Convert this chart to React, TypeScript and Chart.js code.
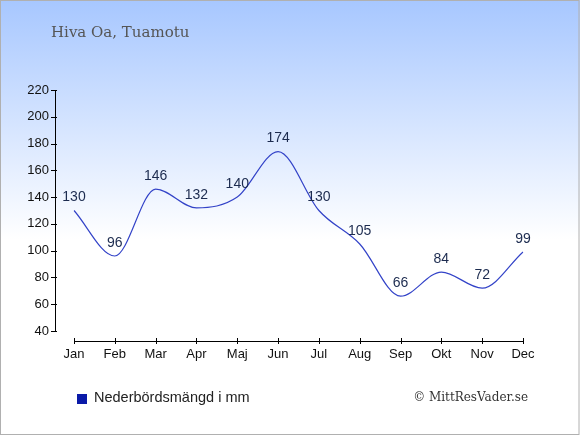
import React, { useEffect, useRef } from "react";
import { Chart, registerables } from "chart.js";

Chart.register(...registerables);

const months = ["Jan", "Feb", "Mar", "Apr", "Maj", "Jun", "Jul", "Aug", "Sep", "Okt", "Nov", "Dec"];
const rainfall = [130, 96, 146, 132, 140, 174, 130, 105, 66, 84, 72, 99];
const yMin = 40;
const yMax = 220;
const yStep = 20;
const titleText = "Hiva Oa, Tuamotu";
const legendText = "Nederbördsmängd i mm";
const creditText = "© MittResVader.se";

const decor = {
  id: "decor",
  beforeDraw(chart: any) {
    const { ctx, width, height } = chart;
    ctx.save();
    const g = ctx.createLinearGradient(0, 0, 0, height);
    g.addColorStop(0, "#a7c7ff");
    g.addColorStop(0.55, "#ffffff");
    g.addColorStop(1, "#ffffff");
    ctx.fillStyle = g;
    ctx.fillRect(0, 0, width, height);
    ctx.strokeStyle = "#b0b0b0";
    ctx.lineWidth = 1;
    ctx.strokeRect(0.5, 0.5, width - 1.5, height - 1);
    ctx.restore();
  },
  afterDraw(chart: any) {
    const { ctx } = chart;
    const xs = chart.scales.x;
    const ys = chart.scales.y;
    const axisX = chart.chartArea.left - 19;
    const axisY = chart.chartArea.bottom + 10;
    ctx.save();
    ctx.strokeStyle = "#000";
    ctx.lineWidth = 1;
    // y axis
    ctx.beginPath();
    ctx.moveTo(axisX + 0.5, ys.getPixelForValue(yMax));
    ctx.lineTo(axisX + 0.5, ys.getPixelForValue(yMin));
    for (let v = yMin; v <= yMax; v += yStep) {
      const p = Math.round(ys.getPixelForValue(v)) + 0.5;
      ctx.moveTo(axisX - 4, p);
      ctx.lineTo(axisX + 2, p);
    }
    ctx.stroke();
    // x axis
    ctx.beginPath();
    ctx.moveTo(xs.getPixelForValue(0), axisY + 0.5);
    ctx.lineTo(xs.getPixelForValue(months.length - 1), axisY + 0.5);
    for (let i = 0; i < months.length; i++) {
      const p = Math.round(xs.getPixelForValue(i)) + 0.5;
      ctx.moveTo(p, axisY - 3);
      ctx.lineTo(p, axisY + 3);
    }
    ctx.stroke();

    // data labels
    const meta = chart.getDatasetMeta(0);
    ctx.fillStyle = "#1c2b4f";
    ctx.font = "14px 'Liberation Sans', Arial, sans-serif";
    ctx.textAlign = "center";
    ctx.textBaseline = "middle";
    meta.data.forEach((pt: any, i: number) => {
      ctx.fillText(String(rainfall[i]), pt.x, pt.y - 13);
    });

    // title
    ctx.fillStyle = "#555555";
    ctx.font = "15px 'DejaVu Serif', serif";
    ctx.textAlign = "left";
    ctx.textBaseline = "alphabetic";
    ctx.fillText(titleText, 51, 37);

    // legend
    ctx.fillStyle = "#0a1aa8";
    ctx.fillRect(77, 394, 10, 10);
    ctx.fillStyle = "#222222";
    ctx.font = "14.5px 'Liberation Sans', Arial, sans-serif";
    ctx.textBaseline = "middle";
    ctx.fillText(legendText, 94, 398);

    // credit
    ctx.fillStyle = "#333333";
    ctx.font = "12px 'DejaVu Serif', serif";
    ctx.textAlign = "right";
    ctx.fillText(creditText, 528, 398);
    ctx.restore();
  },
};

export default function App() {
  const ref = useRef<HTMLCanvasElement | null>(null);
  useEffect(() => {
    if (!ref.current) return;
    const chart = new Chart(ref.current, {
      type: "line",
      data: {
        labels: months,
        datasets: [
          {
            label: legendText,
            data: rainfall,
            borderColor: "#3343c8",
            borderWidth: 1.2,
            pointRadius: 0,
            fill: false,
            cubicInterpolationMode: "monotone",
          },
        ],
      },
      plugins: [decor],
      options: {
        animation: false,
        responsive: false,
        layout: { padding: { left: 0, right: 57, top: 90, bottom: 0 } },
        plugins: { legend: { display: false }, tooltip: { enabled: false } },
        scales: {
          x: {
            type: "category",
            offset: false,
            border: { display: false },
            grid: { display: false },
            ticks: {
              color: "#111",
              font: { family: "'Liberation Sans', Arial, sans-serif", size: 13 },
              padding: 8,
              maxRotation: 0,
              autoSkip: false,
            },
            afterFit: (s: any) => {
              s.height = 104;
            },
          },
          y: {
            min: yMin,
            max: yMax,
            border: { display: false },
            grid: { display: false },
            ticks: {
              stepSize: yStep,
              color: "#111",
              font: { family: "'Liberation Sans', Arial, sans-serif", size: 13 },
              padding: 17,
            },
            afterFit: (s: any) => {
              s.width = 74;
            },
          },
        },
      },
    });
    return () => chart.destroy();
  }, []);
  return (
    <div style={{ position: "fixed", left: 0, top: 0, width: 580, height: 435 }}>
      <canvas ref={ref} width={580} height={435} style={{ display: "block", width: 580, height: 435 }} />
    </div>
  );
}
